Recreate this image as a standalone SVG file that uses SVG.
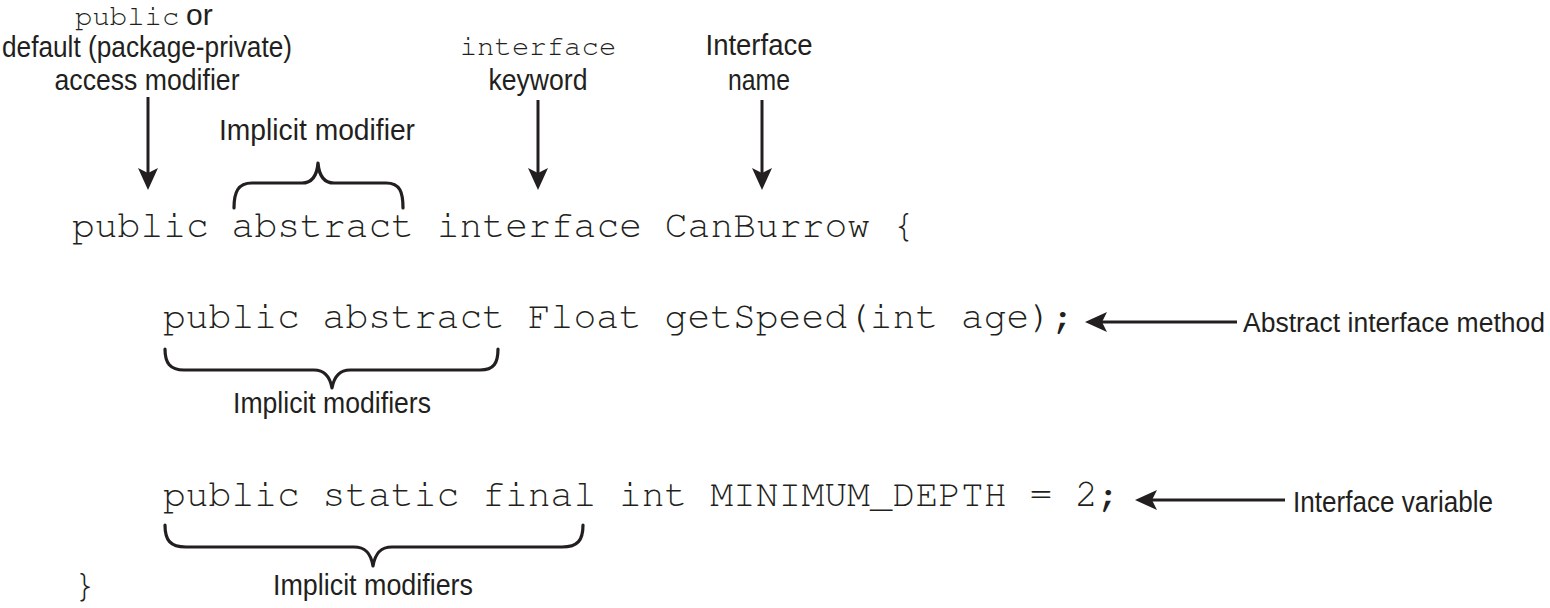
<svg xmlns="http://www.w3.org/2000/svg" width="1550" height="608" viewBox="0 0 1550 608">
<style>
.code{font-family:"Nimbus Mono PS","FreeMono","Courier","Liberation Mono","Courier New",monospace;font-size:38px;fill:#231f20}
.mono{font-family:"Nimbus Mono PS","FreeMono","Courier","Liberation Mono","Courier New",monospace;font-size:29px;fill:#231f20}
.lbl{font-family:"Liberation Sans Narrow","Liberation Sans",Arial,sans-serif;font-size:30px;fill:#231f20}
.ln{stroke:#231f20;stroke-width:3;fill:none}
.br{stroke:#231f20;stroke-width:3.2;fill:none;stroke-linecap:round;stroke-linejoin:round}
</style>
<defs>
<marker id="ah" viewBox="0 0 22 20" refX="5" refY="10" markerWidth="22" markerHeight="20" markerUnits="userSpaceOnUse" orient="auto">
<path d="M22,10 L0,0 L5,10 L0,20 Z" fill="#231f20"/>
</marker>
</defs>
<rect width="1550" height="608" fill="#ffffff"/>

<g id="code">
<text class="code" x="72" y="237" xml:space="preserve">public abstract interface CanBurrow {</text>
<text class="code" x="163" y="328" xml:space="preserve">public abstract Float getSpeed(int age);</text>
<text class="code" x="163" y="506" xml:space="preserve">public static final int MINIMUM_DEPTH = 2;</text>
<text class="code" x="73" y="597">}</text>
</g>

<g id="label-access">
<text x="75" y="25"><tspan class="mono">public</tspan><tspan class="lbl" x="186">or</tspan></text>
<text class="lbl" x="147" y="57" text-anchor="middle" textLength="290" lengthAdjust="spacingAndGlyphs">default (package-private)</text>
<text class="lbl" x="147" y="90" text-anchor="middle" textLength="185" lengthAdjust="spacingAndGlyphs">access modifier</text>
</g>

<g id="label-implicit-1">
<text class="lbl" x="317" y="140" text-anchor="middle" textLength="196" lengthAdjust="spacingAndGlyphs">Implicit modifier</text>
</g>

<g id="label-keyword">
<text class="mono" x="538" y="55" text-anchor="middle">interface</text>
<text class="lbl" x="538" y="90" text-anchor="middle" textLength="99" lengthAdjust="spacingAndGlyphs">keyword</text>
</g>

<g id="label-name">
<text class="lbl" x="759" y="55" text-anchor="middle" textLength="107" lengthAdjust="spacingAndGlyphs">Interface</text>
<text class="lbl" x="759" y="90" text-anchor="middle" textLength="62" lengthAdjust="spacingAndGlyphs">name</text>
</g>

<g id="label-method">
<text class="lbl" x="1243" y="332" style="font-size:26.8px" textLength="302" lengthAdjust="spacingAndGlyphs">Abstract interface method</text>
</g>

<g id="label-variable">
<text class="lbl" x="1293" y="512" textLength="200" lengthAdjust="spacingAndGlyphs">Interface variable</text>
</g>

<g id="label-implicit-2">
<text class="lbl" x="332" y="413" text-anchor="middle" textLength="198" lengthAdjust="spacingAndGlyphs">Implicit modifiers</text>
</g>

<g id="label-implicit-3">
<text class="lbl" x="373" y="595" text-anchor="middle" textLength="200" lengthAdjust="spacingAndGlyphs">Implicit modifiers</text>
</g>

<g id="connectors">
<line class="ln" x1="148" y1="97" x2="148" y2="173" marker-end="url(#ah)"/>
<line class="ln" x1="538" y1="100" x2="538" y2="173" marker-end="url(#ah)"/>
<line class="ln" x1="762" y1="100" x2="762" y2="173" marker-end="url(#ah)"/>
<line class="ln" x1="1237" y1="322" x2="1102" y2="322" marker-end="url(#ah)"/>
<line class="ln" x1="1285" y1="500" x2="1152" y2="500" marker-end="url(#ah)"/>
<path class="br" d="M234,208 C234,192 238,183 252,183 L302,183 C312,183 317,175 318,163 C319,175 324,183 334,183 L386,183 C400,183 403,192 403,208"/>
<path class="br" d="M165,349 C165,363 170,370 184,370 L314,370 C325,370 330,377 332,388 C334,377 339,370 350,370 L480,370 C494,370 498,363 498,349"/>
<path class="br" d="M165,525 C165,540 170,547 186,547 L354,547 C366,547 371,554 373,566 C375,554 380,547 392,547 L562,547 C578,547 583,540 583,525"/>
</g>
</svg>
